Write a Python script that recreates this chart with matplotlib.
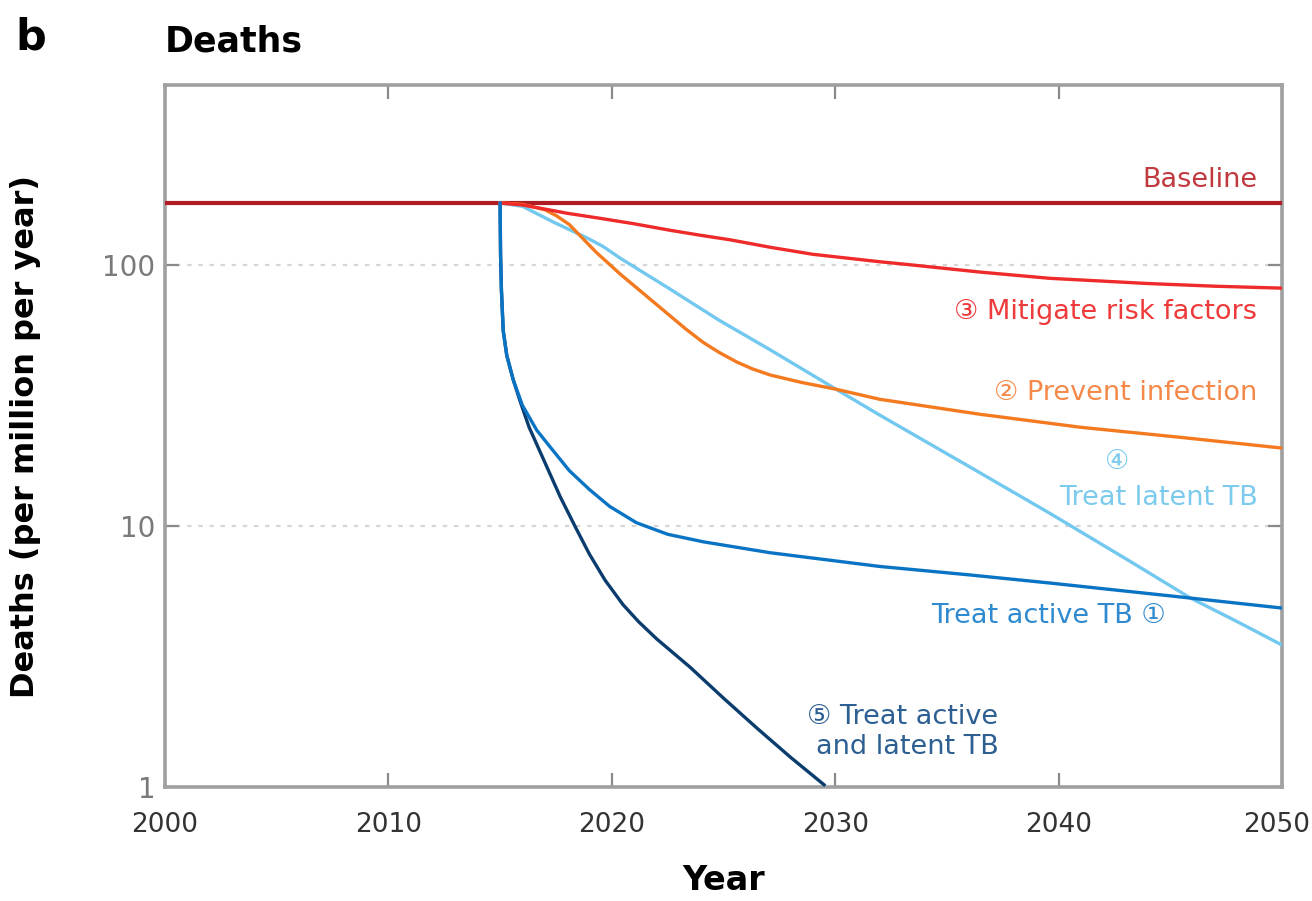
import matplotlib
matplotlib.use("Agg")
import matplotlib.pyplot as plt
import matplotlib.transforms as mtransforms
from matplotlib.ticker import FixedLocator, NullLocator, FixedFormatter

# ---- data ----
baseline_years = [2000, 2050]
baseline_vals = [173, 173]

mitigate_years = [2015.0, 2016.0, 2017.0, 2018.0, 2019.5, 2021.0, 2022.6, 2024.0, 2025.3,
                  2027.1, 2029.0, 2032.0, 2033.5, 2036.5, 2039.6, 2044.0, 2047.0, 2050.0]
mitigate_vals = [173, 170, 164, 158, 151, 144, 136, 130, 125,
                 117, 110, 103, 100, 94, 89, 85, 83, 81.6]

prevent_years = [2015.0, 2016.0, 2017.0, 2017.5, 2018.1, 2019.3, 2020.4, 2021.1, 2022.6,
                 2023.3, 2024.1, 2024.8, 2025.6, 2026.3, 2027.1, 2028.5, 2030.0, 2032.0,
                 2036.5, 2041.0, 2045.4, 2050.0]
prevent_vals = [173, 171, 163, 155, 143, 112, 92, 82, 64,
                57, 50.5, 46.3, 42.5, 40.0, 37.9, 35.5, 33.5, 30.6,
                26.8, 23.9, 21.9, 19.9]

latent_years = [2015.0, 2016.0, 2017.4, 2018.9, 2019.6, 2020.4, 2022.6, 2024.8, 2027.1,
                2030.0, 2032.0, 2036.0, 2039.6, 2043.0, 2045.9, 2048.0, 2050.0]
latent_vals = [173, 168, 146, 127, 118, 106, 81, 61.5, 47.3,
               33.6, 26.6, 16.9, 11.2, 7.5, 5.3, 4.3, 3.5]

active_years = [2015.0, 2015.02, 2015.06, 2015.14, 2015.3, 2015.59, 2016.0, 2016.64, 2017.3,
                2018.1, 2019.0, 2019.9, 2021.1, 2022.5, 2024.1, 2027.1, 2032.0, 2036.0,
                2039.6, 2045.0, 2050.0]
active_vals = [173, 110, 80, 56, 45, 36.3, 29, 23.3, 19.8,
               16.3, 13.8, 11.9, 10.3, 9.3, 8.7, 7.9, 7.0, 6.5,
               6.05, 5.4, 4.85]

both_years = [2015.0, 2015.02, 2015.06, 2015.14, 2015.3, 2015.59, 2015.9, 2016.3, 2017.1,
              2017.7, 2018.4, 2019.0, 2019.7, 2020.5, 2021.2, 2022.0, 2023.5, 2025.0,
              2026.5, 2028.0, 2029.5]
both_vals = [173, 110, 80, 56, 45, 36.3, 30, 23.9, 16.8,
             12.9, 9.8, 7.8, 6.2, 5.0, 4.3, 3.7, 2.88, 2.19,
             1.68, 1.30, 1.02]

x_ticks = [2000, 2010, 2020, 2030, 2040, 2050]
x_ticklabels = ["2000", "2010", "2020", "2030", "2040", "2050"]
y_ticks = [1, 10, 100]
y_ticklabels = ["1", "10", "100"]

# ---- colours ----
c_base = "#b01c24"
c_mit = "#ee2a2a"
c_prev = "#f47a20"
c_lat = "#72c8ee"
c_act = "#0a74c4"
c_both = "#0b3c6e"

FAM = ["DejaVu Sans", "Noto Sans CJK SC"]
plt.rcParams["font.family"] = FAM

fig = plt.figure(figsize=(13.12, 9.01), dpi=100)
ax = fig.add_axes([165/1312, 1-787/901, (1282-165)/1312, (787-85)/901])

ax.set_yscale("log")
ax.set_xlim(2000, 2050)
ax.set_ylim(1, 490)

# grid lines
for g in [10, 100]:
    ax.axhline(g, color="#d6d6d6", lw=1.6, ls=(0, (2, 3)), zorder=1)

lw = 2.4
ax.plot(baseline_years, baseline_vals, color=c_base, lw=3.0, zorder=3, solid_capstyle="butt")
ax.plot(both_years, both_vals, color=c_both, lw=lw, zorder=4)
ax.plot(active_years, active_vals, color=c_act, lw=lw, zorder=5)
ax.plot(latent_years, latent_vals, color=c_lat, lw=lw, zorder=4)
ax.plot(prevent_years, prevent_vals, color=c_prev, lw=lw, zorder=4)
ax.plot(mitigate_years, mitigate_vals, color=c_mit, lw=lw, zorder=4)

# ticks
ax.xaxis.set_major_locator(FixedLocator(x_ticks))
ax.xaxis.set_major_formatter(FixedFormatter(x_ticklabels))
ax.yaxis.set_major_locator(FixedLocator(y_ticks))
ax.yaxis.set_major_formatter(FixedFormatter(y_ticklabels))
ax.yaxis.set_minor_locator(NullLocator())
ax.xaxis.set_minor_locator(NullLocator())
ax.tick_params(axis="both", which="major", direction="in", length=10, width=1.6,
               color="#8a8a8a", top=True, right=True)
ax.tick_params(axis="x", labelsize=19, labelcolor="#333333", pad=18)
ax.tick_params(axis="y", labelsize=20, labelcolor="#7a7a7a", pad=7)

# keep the last x tick label inside the figure
lbls = ax.get_xticklabels()
lbls[-1].set_transform(lbls[-1].get_transform() +
                       mtransforms.ScaledTranslation(-5/100, 0, fig.dpi_scale_trans))

for s in ax.spines.values():
    s.set_color("#a0a0a0")
    s.set_linewidth(2.6)

ax.set_ylabel("Deaths (per million per year)", fontsize=23, fontweight="bold", labelpad=44)
ax.set_xlabel("Year", fontsize=24, fontweight="bold", labelpad=19)

fig.text(15/1312, 1-50/901, "b", fontsize=31, fontweight="bold", ha="left", va="baseline")
fig.text(165/1312, 1-52/901, "Deaths", fontsize=25, fontweight="bold", ha="left", va="baseline")

tk = dict(fontsize=19.5, family=FAM)
ax.text(2048.9, 212, "Baseline", color="#c0393f", ha="right", va="center", **tk)
ax.text(2048.9, 66, "③ Mitigate risk factors", color="#ee3a3a", ha="right", va="center", **tk)
ax.text(2048.9, 32.3, "② Prevent infection", color="#f5894a", ha="right", va="center", **tk)
ax.text(2042.6, 17.6, "④", color="#7ccbee", ha="center", va="center", **tk)
ax.text(2048.9, 12.8, "Treat latent TB", color="#7ccbee", ha="right", va="center", **tk)
ax.text(2044.8, 4.52, "Treat active TB ①", color="#2f8ad0", ha="right", va="center", **tk)
ax.text(2037.3, 1.85, "⑤ Treat active", color="#2d5f92", ha="right", va="center", **tk)
ax.text(2037.3, 1.42, "and latent TB", color="#2d5f92", ha="right", va="center", **tk)

fig.savefig("out.png", dpi=100)
